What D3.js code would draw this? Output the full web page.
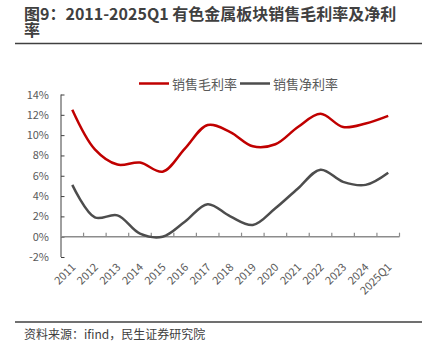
<!DOCTYPE html>
<html>
<head>
<meta charset="utf-8">
<script src="https://cdn.jsdelivr.net/npm/d3@7"></script>
<style>
  body { margin: 0; background: #fff; }
  svg { display: block; font-family: "Noto Sans CJK SC", "Noto Sans", sans-serif; }
</style>
</head>
<body>
<div id="chart"></div>
<script>
// data
const years = ['2011', '2012', '2013', '2014', '2015', '2016', '2017', '2018',
  '2019', '2020', '2021', '2022', '2023', '2024', '2025Q1'];
const grossMargin = [12.5, 8.6, 7.1, 7.3, 6.4, 8.7, 11.0, 10.3, 8.9, 9.1, 10.8, 12.1, 10.8, 11.15, 11.9];
const netMargin = [5.1, 1.9, 2.1, 0.3, 0.0, 1.5, 3.2, 2.0, 1.15, 2.8, 4.75, 6.6, 5.4, 5.1, 6.3];
const yTicks = [-2, 0, 2, 4, 6, 8, 10, 12, 14];
const seriesNames = ['销售毛利率', '销售净利率'];
const seriesColors = ['#c00000', '#4d4d4d'];

const width = 439, height = 362;

let svg = d3.select('#chart')
  .append('svg')
  .attr('width', width)
  .attr('height', height);

// title, two lines
svg.append('text')
  .attr('x', 24)
  .attr('y', 19.5)
  .style('font-size', '16px')
  .style('font-weight', 'bold')
  .style('fill', '#404040')
  .text('图9：2011-2025Q1 有色金属板块销售毛利率及净利');
svg.append('text')
  .attr('x', 24)
  .attr('y', 36)
  .style('font-size', '16px')
  .style('font-weight', 'bold')
  .style('fill', '#404040')
  .text('率');

svg.append('line')
  .attr('x1', 15).attr('x2', 422)
  .attr('y1', 43.5).attr('y2', 43.5)
  .attr('stroke', '#404040')
  .attr('stroke-width', 1.5);

svg.append('line')
  .attr('x1', 15).attr('x2', 422)
  .attr('y1', 322).attr('y2', 322)
  .attr('stroke', '#404040')
  .attr('stroke-width', 1.5);

svg.append('text')
  .attr('x', 24)
  .attr('y', 339)
  .style('font-size', '12px')
  .style('fill', '#404040')
  .text('资料来源：ifind，民生证券研究院');

// scales
let x = d3.scaleBand().domain(years).range([61, 399.5]);
let y = d3.scaleLinear().domain([-2, 14]).range([257, 94.5]);

// y axis
let yAxis = svg.append('g')
  .attr('transform', 'translate(61,0)')
  .call(d3.axisLeft(y).tickValues(yTicks).tickSize(-3.5).tickPadding(12)
    .tickFormat(d => d + '%'));
yAxis.select('.domain').attr('stroke', '#404040').attr('d', 'M0,' + y(14) + 'V' + y(-2));
yAxis.selectAll('.tick line').attr('stroke', '#404040');
yAxis.selectAll('.tick text')
  .style('font-size', '11px')
  .style('fill', '#595959')
  .style('font-family', '"Noto Sans CJK SC", sans-serif');

// x axis at 0%
let xAxisG = svg.append('g')
  .attr('transform', 'translate(0,' + y(0) + ')');
xAxisG.append('line')
  .attr('x1', 61).attr('x2', 399.5)
  .attr('stroke', '#8c8c8c')
  .attr('stroke-width', 1.5);
xAxisG.selectAll('line.tick')
  .data(years.slice(1).concat(['end']))
  .enter().append('line')
  .attr('class', 'tick')
  .attr('x1', (d, i) => x.range()[0] + (i + 1) * x.step())
  .attr('x2', (d, i) => x.range()[0] + (i + 1) * x.step())
  .attr('y1', 0).attr('y2', -4)
  .attr('stroke', '#8c8c8c')
  .attr('stroke-width', 1.2);

// x labels, rotated
svg.selectAll('text.xlabel')
  .data(years)
  .enter().append('text')
  .attr('class', 'xlabel')
  .attr('text-anchor', 'end')
  .attr('transform', d => 'translate(' + (x(d) + x.bandwidth() / 2 + 4) + ',268) rotate(-45)')
  .style('font-size', '11px')
  .style('fill', '#595959')
  .text(d => d);

// lines
let line = d3.line()
  .x((d, i) => x(years[i]) + x.bandwidth() / 2)
  .y(d => y(d))
  .curve(d3.curveCatmullRom.alpha(0.5));

[grossMargin, netMargin].forEach((series, k) => {
  svg.append('path')
    .datum(series)
    .attr('d', line)
    .attr('fill', 'none')
    .attr('stroke', seriesColors[k])
    .attr('stroke-width', 2.5)
    .attr('stroke-linejoin', 'round');
});

// legend
let legendX = [139, 240];
seriesNames.forEach((name, k) => {
  svg.append('line')
    .attr('x1', legendX[k]).attr('x2', legendX[k] + 30)
    .attr('y1', 83.5).attr('y2', 83.5)
    .attr('stroke', seriesColors[k])
    .attr('stroke-width', 2.5);
  svg.append('text')
    .attr('x', legendX[k] + 33)
    .attr('y', 88.5)
    .style('font-size', '13px')
    .style('fill', '#595959')
    .text(name);
});
</script>
</body>
</html>
